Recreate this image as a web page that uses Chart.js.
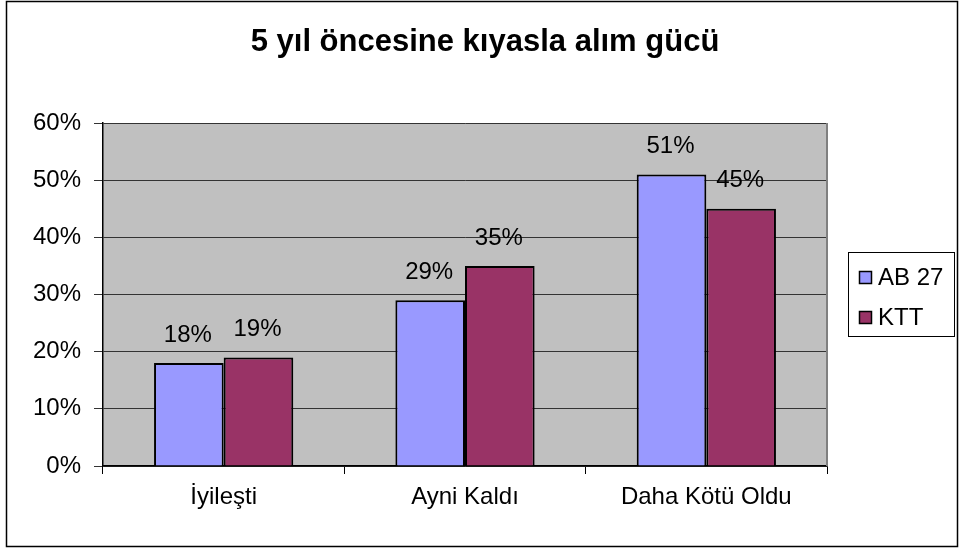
<!DOCTYPE html>
<html>
<head>
<meta charset="utf-8">
<script src="https://cdn.jsdelivr.net/npm/chart.js@4/dist/chart.umd.min.js"></script>
<style>
  html, body { margin: 0; padding: 0; background: #fff; }
  canvas { display: block; }
</style>
</head>
<body>
<canvas id="alimGucuChart" width="959" height="548"></canvas>
<script>
// veriler
const categories = ['İyileşti', 'Ayni Kaldı', 'Daha Kötü Oldu'];
const seriesNames = ['AB 27', 'KTT'];
const ab27Values = [18, 29, 51];
const kttValues = [19, 35, 45];
const yTicks = [0, 10, 20, 30, 40, 50, 60];
const seriesColors = ['#9999FF', '#993366'];

const FONT = "'Liberation Sans', Arial, sans-serif";

// arka plan, başlık, çerçeve ve lejant
const decorPlugin = {
  id: 'decor',
  beforeDraw(chart) {
    const { ctx, chartArea: a } = chart;
    ctx.save();
    ctx.fillStyle = '#C0C0C0';
    ctx.fillRect(a.left, a.top, a.right - a.left, a.bottom - a.top);
    ctx.restore();
  },
  afterDraw(chart) {
    const { ctx, chartArea: a } = chart;
    ctx.save();
    // sağ kenar
    ctx.strokeStyle = '#808080';
    ctx.lineWidth = 2;
    ctx.beginPath();
    ctx.moveTo(a.right, a.top);
    ctx.lineTo(a.right, a.bottom);
    ctx.stroke();

    // dış çerçeve
    ctx.strokeStyle = '#000';
    ctx.lineWidth = 1.5;
    ctx.strokeRect(6.5, 1.5, 951, 545);

    // başlık
    ctx.fillStyle = '#000';
    ctx.font = 'bold 31px ' + FONT;
    ctx.textAlign = 'center';
    ctx.textBaseline = 'alphabetic';
    ctx.fillText('5 yıl öncesine kıyasla alım gücü', 485, 51);

    // lejant
    ctx.lineWidth = 1;
    ctx.strokeRect(848.5, 252.5, 106, 84);
    ctx.font = '24px ' + FONT;
    ctx.textAlign = 'left';
    ctx.textBaseline = 'middle';
    chart.data.datasets.forEach((ds, i) => {
      const cy = 277 + i * 40;
      ctx.fillStyle = ds.backgroundColor;
      ctx.fillRect(859, cy - 6, 12, 12);
      ctx.strokeStyle = '#000';
      ctx.lineWidth = 1.5;
      ctx.strokeRect(859.5, cy - 5.5, 12, 12);
      ctx.fillStyle = '#000';
      ctx.fillText(ds.label, 878, cy + 1);
    });
    ctx.restore();
  },
  afterDatasetsDraw(chart) {
    const { ctx } = chart;
    ctx.save();
    ctx.fillStyle = '#000';
    ctx.font = '24px ' + FONT;
    ctx.textAlign = 'center';
    ctx.textBaseline = 'middle';
    chart.data.datasets.forEach((ds, i) => {
      chart.getDatasetMeta(i).data.forEach((bar, j) => {
        ctx.fillText(ds.data[j] + '%', bar.x - 1, bar.y - 28);
      });
    });
    ctx.restore();
  }
};

const ctx = document.getElementById('alimGucuChart').getContext('2d');
const alimGucuChart = new Chart(ctx, {
  type: 'bar',
  data: {
    labels: categories,
    datasets: [
      {
        label: seriesNames[0],
        data: ab27Values,
        backgroundColor: seriesColors[0],
        borderColor: '#000',
        borderWidth: 2
      },
      {
        label: seriesNames[1],
        data: kttValues,
        backgroundColor: seriesColors[1],
        borderColor: '#000',
        borderWidth: 2
      }
    ]
  },
  options: {
    responsive: false,
    animation: false,
    layout: { padding: { top: 123, right: 132, bottom: 0, left: 0 } },
    datasets: {
      bar: { categoryPercentage: 0.577, barPercentage: 1 }
    },
    plugins: {
      legend: { display: false },
      title: { display: false },
      tooltip: { enabled: false }
    },
    scales: {
      x: {
        grid: { drawOnChartArea: false, drawTicks: true, tickLength: 8, color: '#000' },
        border: { color: '#000', width: 1.5 },
        ticks: { color: '#000', font: { family: FONT, size: 24 }, padding: 9, maxRotation: 0 },
        afterFit: scale => { scale.height = 82; }
      },
      y: {
        min: 0,
        max: 60,
        afterBuildTicks: scale => { scale.ticks = yTicks.map(v => ({ value: v })); },
        grid: { color: '#333', lineWidth: 1, tickLength: 9 },
        border: { color: '#000', width: 1.5 },
        ticks: {
          color: '#000',
          font: { family: FONT, size: 24 },
          padding: 13,
          callback: v => v + '%'
        },
        afterFit: scale => { scale.width = 103; }
      }
    }
  },
  plugins: [decorPlugin]
});
</script>
</body>
</html>
